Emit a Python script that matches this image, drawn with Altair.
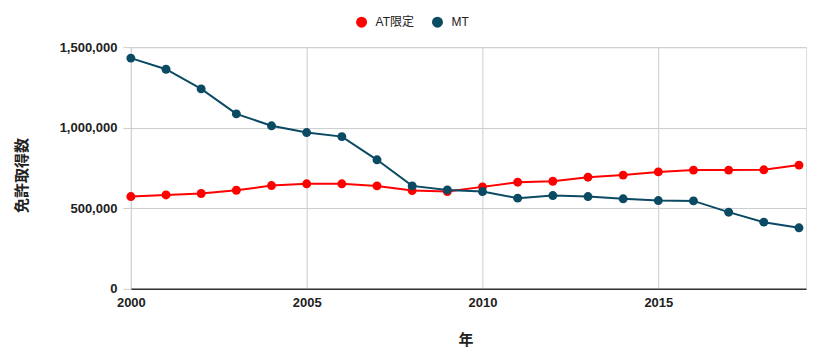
import altair as alt
import pandas as pd

years = list(range(2000, 2020))
at_values = [573000, 583000, 592000, 612000, 641000, 652000, 652000, 639000, 610000, 604000,
             633000, 662000, 668000, 693000, 706000, 726000, 737000, 737000, 739000, 768000]
mt_values = [1432000, 1363000, 1241000, 1086000, 1012000, 970000, 945000, 801000, 639000, 614000,
             604000, 563000, 579000, 573000, 559000, 548000, 546000, 476000, 414000, 379000]
series_names = ["AT限定", "MT"]
series_colors = ["#ff0000", "#0b4a63"]
x_ticks = [2000, 2005, 2010, 2015]
y_ticks = [0, 500000, 1000000, 1500000]

rows = []
for name, vals in zip(series_names, [at_values, mt_values]):
    for y, v in zip(years, vals):
        rows.append({"year": y, "value": v, "series": name})
df = pd.DataFrame(rows)

FONT = "Liberation Sans, Arial, Noto Sans CJK JP"

x = alt.X("year:Q",
          scale=alt.Scale(domain=[2000, 2019.2], nice=False, zero=False),
          axis=alt.Axis(values=x_ticks, format="d", title="年", grid=True, gridColor="#cccccc",
                        ticks=False, domain=True, domainColor="#333333", domainWidth=1.5,
                        labelFont=FONT, labelFontSize=13, labelFontWeight="bold", labelColor="#222222",
                        labelPadding=8, labelFlush=False,
                        titleFont=FONT, titleFontSize=15, titleFontWeight="bold", titleColor="#222222",
                        titleX=335, titleY=51, titleBaseline="middle"))
y = alt.Y("value:Q",
          scale=alt.Scale(domain=[0, 1500000], nice=False),
          axis=alt.Axis(values=y_ticks, format=",d", title="免許取得数", grid=True, gridColor="#cccccc",
                        ticks=True, tickSize=8, tickColor="#cccccc", domain=False,
                        labelFont=FONT, labelFontSize=13, labelFontWeight="bold", labelColor="#222222",
                        labelPadding=6,
                        titleFont=FONT, titleFontSize=15, titleFontWeight="bold", titleColor="#222222",
                        titleX=-101, titleY=128, titleAngle=-90, titleBaseline="bottom", titleAlign="center"))
color = alt.Color("series:N",
                  scale=alt.Scale(domain=series_names, range=series_colors),
                  legend=alt.Legend(title=None, orient="none", direction="horizontal",
                                    legendX=225, legendY=-31, symbolType="circle", symbolSize=120,
                                    symbolStrokeWidth=0, labelFont=FONT, labelFontSize=12,
                                    labelColor="#222222", labelOffset=8, columnPadding=17, padding=0))

base = alt.Chart(df).encode(x=x, y=y, color=color,
                            order=alt.Order("year:Q"))
lines = base.mark_line(strokeWidth=2)
points = base.mark_circle(size=80, opacity=1)

chart = alt.layer(lines, points).properties(
    width=676, height=242,
    autosize=alt.AutoSizeParams(type="none"),
    padding={"left": 123, "top": 39, "right": 8, "bottom": 62},
).configure_view(stroke=None).configure(background="white")

chart.save("out.html", embed_options={"renderer": "svg", "actions": False})
